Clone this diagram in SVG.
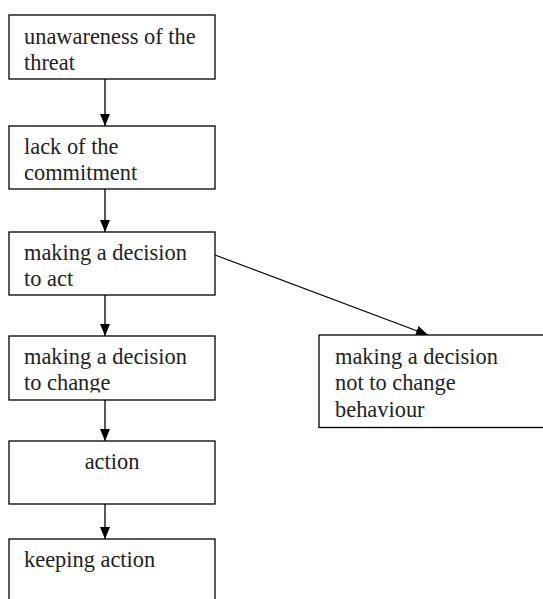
<svg xmlns="http://www.w3.org/2000/svg" width="543" height="599" viewBox="0 0 543 599">
  <style>
    .box { fill: #ffffff; stroke: #000000; stroke-width: 1.3; }
    .lbl { font-family: "Liberation Serif", "Times New Roman", serif; font-size: 22.4px; fill: #222222; }
    .edge { stroke: #000000; stroke-width: 1.3; fill: none; }
  </style>
  <defs>
    <marker id="arrow" markerUnits="userSpaceOnUse" markerWidth="12" markerHeight="12" refX="12" refY="5" orient="auto">
      <path d="M0,0 L12,5 L0,10 Z" fill="#000000"/>
    </marker>
    <clipPath id="clipChange">
      <rect x="9" y="336" width="206" height="56.5"/>
    </clipPath>
  </defs>
  <rect width="543" height="599" fill="#ffffff"/>

  <g id="connectors">
    <line class="edge" x1="105" y1="79" x2="105" y2="126" marker-end="url(#arrow)"/>
    <line class="edge" x1="105" y1="189" x2="105" y2="232" marker-end="url(#arrow)"/>
    <line class="edge" x1="105" y1="295" x2="105" y2="336" marker-end="url(#arrow)"/>
    <line class="edge" x1="105" y1="400" x2="105" y2="441" marker-end="url(#arrow)"/>
    <line class="edge" x1="105" y1="504" x2="105" y2="539" marker-end="url(#arrow)"/>
    <line class="edge" x1="215" y1="255" x2="428" y2="335" marker-end="url(#arrow)"/>
  </g>

  <g id="unawareness">
    <rect class="box" x="9" y="15" width="206" height="64"/>
    <text class="lbl" x="24" y="44">unawareness of the</text>
    <text class="lbl" x="24" y="70">threat</text>
  </g>

  <g id="lack-of-commitment">
    <rect class="box" x="9" y="126" width="206" height="63"/>
    <text class="lbl" x="24" y="154">lack of the</text>
    <text class="lbl" x="24" y="180">commitment</text>
  </g>

  <g id="decision-to-act">
    <rect class="box" x="9" y="232" width="206" height="63"/>
    <text class="lbl" x="24" y="260">making a decision</text>
    <text class="lbl" x="24" y="286">to act</text>
  </g>

  <g id="decision-to-change">
    <rect class="box" x="9" y="336" width="206" height="64"/>
    <g clip-path="url(#clipChange)">
      <text class="lbl" x="24" y="364">making a decision</text>
      <text class="lbl" x="24" y="390">to change</text>
    </g>
  </g>

  <g id="action">
    <rect class="box" x="9" y="441" width="206" height="63"/>
    <text class="lbl" x="112" y="469" text-anchor="middle">action</text>
  </g>

  <g id="keeping-action">
    <rect class="box" x="9" y="539" width="206" height="80"/>
    <text class="lbl" x="24" y="567">keeping action</text>
  </g>

  <g id="decision-not-to-change">
    <rect class="box" x="319" y="335" width="240" height="92.5"/>
    <text class="lbl" x="335" y="364">making a decision</text>
    <text class="lbl" x="335" y="390">not to change</text>
    <text class="lbl" x="335" y="416.5">behaviour</text>
  </g>
</svg>
